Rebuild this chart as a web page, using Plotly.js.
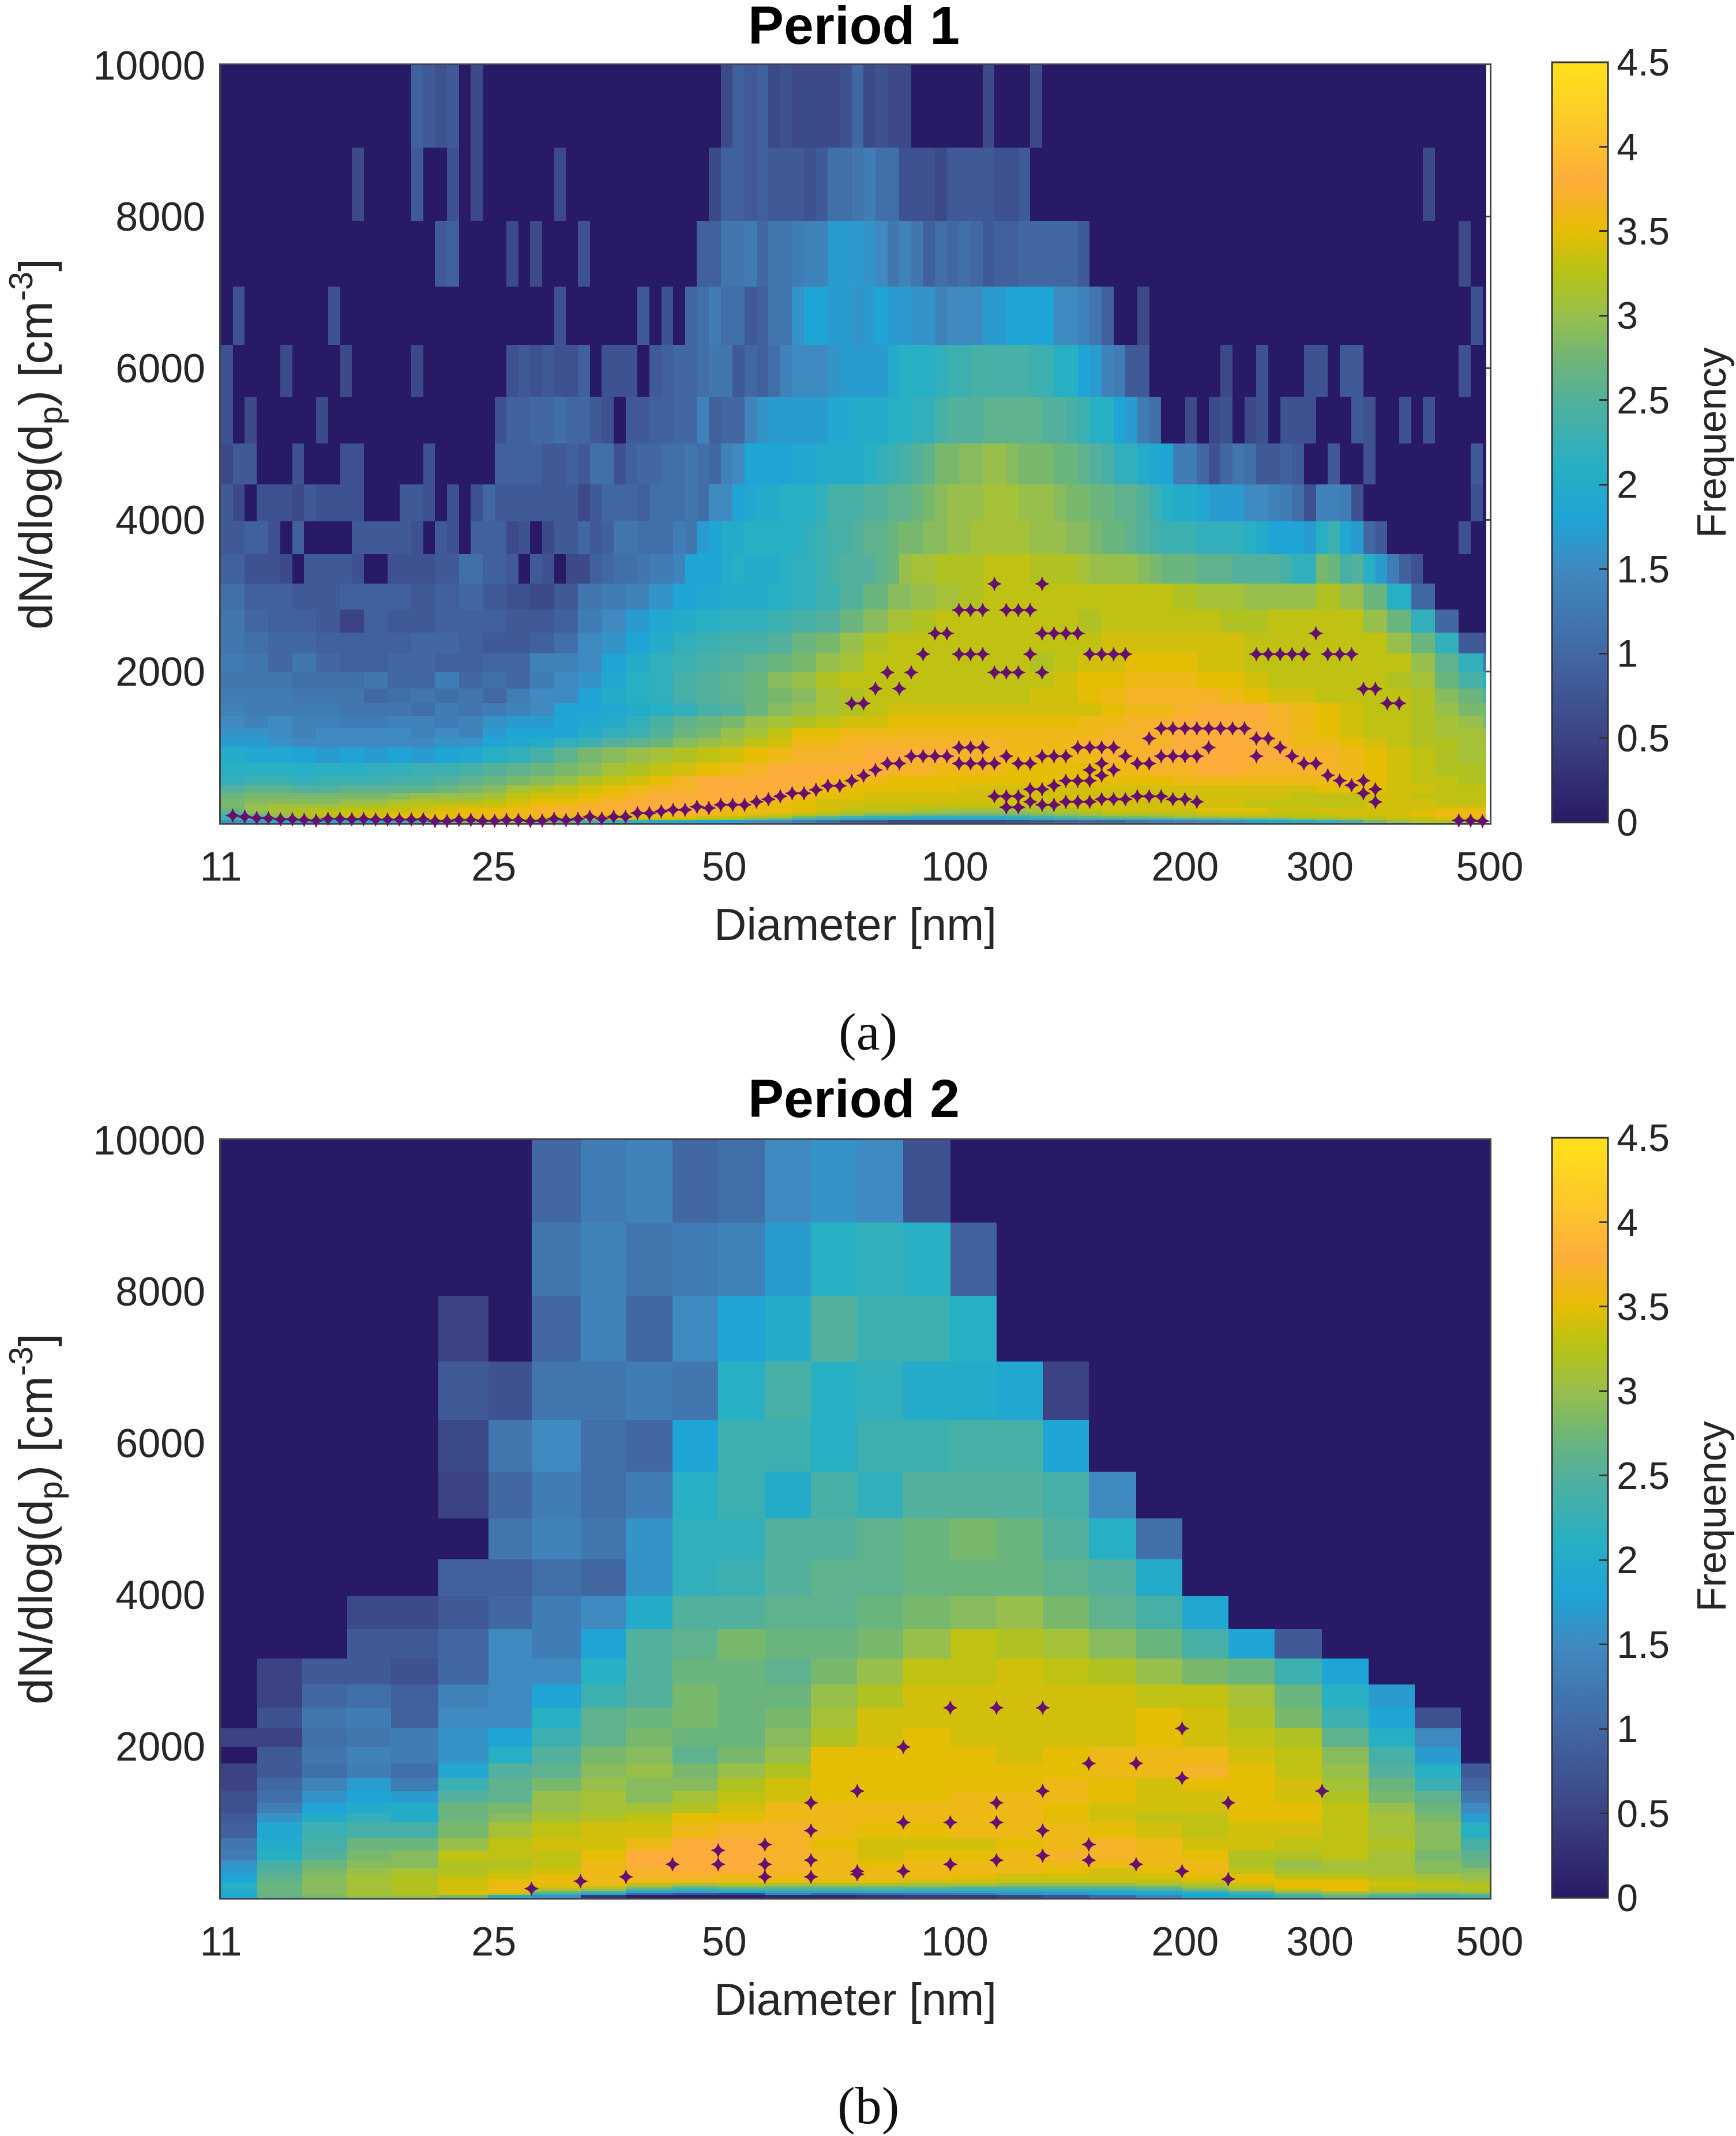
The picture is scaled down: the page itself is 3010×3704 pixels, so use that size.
<!DOCTYPE html>
<html><head><meta charset="utf-8"><script src="https://cdn.plot.ly/plotly-3.0.1.min.js"></script>
<style>html,body{margin:0;padding:0;background:#fff}</style></head><body><div id="g" style="width:3010px;height:3704px"></div>
<script>
// Diameter bin edges [nm], Period 1 (fine channels)
const edgesA=[11,11.4,11.82,12.25,12.69,13.16,13.64,14.13,14.65,15.18,15.74,16.31,16.9,17.52,18.16,18.82,19.51,20.22,20.95,21.72,22.51,23.33,24.18,25.06,25.97,26.92,27.9,28.92,29.97,31.06,32.2,33.37,34.59,35.85,37.15,38.51,39.91,41.37,42.87,44.44,46.06,47.74,49.48,51.28,53.15,55.09,57.1,59.18,61.33,63.57,65.89,68.29,70.78,73.36,76.03,78.8,81.68,84.66,87.74,90.94,94.26,97.69,101.3,104.9,108.8,112.7,116.8,121.1,125.5,130.1,134.8,139.7,144.8,150.1,155.6,161.3,167.1,173.2,179.5,186.1,192.8,199.9,207.2,214.7,222.5,230.7,239.1,247.8,256.8,266.2,275.9,285.9,296.4,307.2,318.4,330,342,354.5,367.4,380.8,394.7,409.1,424,439.5,455.5,472.1,489.3,495];
// Diameter bin edges [nm], Period 2
const edgesB=[11,12.27,14.05,16.08,18.34,21.15,24.59,28,32.45,37.2,42.8,49.1,56.5,64.9,74.6,85.7,98.7,113.4,130.3,149.7,172.6,198.2,227.7,261.6,302,347.6,399,458.7,500];
// dN/dlogDp bin edges
const rowsUpper=[10000,8913,7943,7079,6310,5623,5012,4467,3981,3548,3162];
const rowsLower=[3162,2818,2512,2239,1995,1778,1585,1413,1259,1122,1000,794,631,501,398,316,251,200,158,126,100,63,40,5];
// Frequency x10, Period 1, rows from top, fine channels (missing tail = 0)
const freqA_upper=[
[0,0,0,0,0,0,0,0,0,0, 0,0,0,0,0,0,9,8,7,8, 0,6,0,0,0,0,0,0,0,0, 0,0,0,0,0,0,0,0,0,0, 0,0,6,9,8,9,6,7,6,6, 6,6,7,10,6,7,6,6,0,0, 0,0,0,0,6,0,0,0,6,0],
[0,0,0,0,0,0,0,0,0,0, 0,6,0,0,0,0,8,0,0,7, 0,6,0,0,0,0,0,0,6,0, 0,0,0,0,0,0,0,0,0,0, 0,6,9,9,8,9,8,8,8,7, 8,11,11,12,13,11,11,7,7,7, 6,8,8,8,8,7,7,8,0,0, 0,0,0,0,0,0,0,0,0,0, 0,0,0,0,0,0,0,0,0,0, 0,0,0,0,0,0,0,0,0,0, 0,6],
[0,0,0,0,0,0,0,0,0,0, 0,0,0,0,0,0,0,0,8,9, 0,0,0,0,6,0,6,0,0,0, 7,0,0,0,0,0,0,0,0,0, 9,9,12,12,13,10,12,12,13,14, 14,17,17,17,16,15,12,14,12,9, 11,10,11,10,8,9,9,10,10,10, 10,10,8,0,0,0,0,0,0,0, 0,0,0,0,0,0,0,0,0,0, 0,0,0,0,0,0,0,0,0,0, 0,0,0,0,6],
[0,7,0,0,0,0,0,0,0,7, 0,0,0,0,0,0,0,0,0,0, 0,0,0,0,0,0,0,0,7,0, 0,0,0,0,0,8,0,7,0,10, 11,13,11,11,8,9,12,12,16,18, 18,17,17,16,17,18,17,17,16,16, 14,15,15,15,17,17,18,18,18,18, 15,15,14,12,9,0,0,6,0,0, 0,0,0,0,0,0,0,0,0,0, 0,0,0,0,0,0,0,0,0,0, 0,0,0,0,0,7],
[7,0,0,0,0,6,0,0,0,0, 6,0,0,0,0,0,6,0,0,0, 0,0,0,0,7,8,7,8,7,7, 9,0,7,7,7,0,8,9,10,10, 11,12,12,8,10,9,11,14,15,15, 15,16,17,17,17,17,20,21,21,21, 22,23,23,24,24,24,24,24,23,23, 21,21,18,17,14,13,8,8,0,0, 0,0,0,0,6,0,0,7,0,0, 0,7,7,0,8,8,0,0,0,0, 0,0,0,0,7,0,0],
[7,0,6,0,0,0,0,0,6,0, 0,0,0,0,0,0,0,0,0,0, 0,0,0,7,9,9,10,10,11,10, 10,8,7,0,8,8,9,9,10,10, 14,9,10,10,14,16,17,17,17,17, 17,19,19,20,20,20,21,21,22,22, 24,25,25,25,26,26,26,26,26,25, 25,24,23,21,21,18,17,13,11,0, 0,6,0,6,7,0,6,7,0,7, 7,7,0,0,0,8,7,0,0,7, 0,7,0,0,0,0,0],
[6,8,8,0,0,0,7,0,0,0, 7,7,0,0,0,0,0,7,0,0, 0,0,0,9,9,9,9,8,8,9, 8,11,11,7,9,10,10,11,11,12, 11,10,14,15,18,18,18,18,19,19, 20,20,20,20,21,22,23,24,25,26, 28,28,29,29,30,30,29,28,28,28, 27,27,26,25,24,22,22,20,19,18, 13,13,10,7,10,12,11,8,8,9, 8,0,0,8,0,0,7,0,0,0, 0,0,0,0,0,8,0],
[8,6,0,7,7,7,6,8,7,7, 7,7,0,0,0,8,8,7,0,7, 0,7,10,8,8,8,8,8,8,8, 6,8,10,10,10,9,11,11,11,12, 11,15,15,18,19,20,20,21,21,21, 22,24,24,24,25,25,26,26,27,28, 29,30,30,30,31,31,31,30,30,30, 29,28,28,27,27,26,26,25,23,21, 20,20,19,17,17,17,15,15,14,13, 11,7,14,14,13,7,0,0,0,0, 0,0,0,0,0,7,0],
[8,8,9,9,7,0,9,0,0,0, 0,8,8,8,8,8,7,0,8,7, 0,9,9,9,6,7,0,6,8,8, 10,8,9,12,12,11,11,11,13,12, 17,18,20,20,21,21,21,21,21,22, 23,24,24,25,26,26,27,28,28,29, 29,30,30,31,31,31,31,31,30,30, 30,29,29,28,27,27,26,25,24,23, 23,23,22,22,22,22,21,20,18,18, 18,17,21,23,19,17,10,8,0,0, 0,0,0,0,7,0,0],
[9,9,7,7,7,6,0,8,8,8, 8,7,0,0,7,7,7,7,8,8, 11,11,9,9,8,0,8,7,0,6, 6,9,10,11,11,12,13,13,14,18, 18,18,20,21,20,20,20,21,22,22, 23,24,25,25,25,26,27,30,31,31, 32,32,32,32,33,33,33,33,32,32, 32,32,31,30,30,30,30,29,28,27, 27,27,26,26,26,25,25,25,25,24, 22,22,28,27,24,25,21,17,13,9, 7,0,0,0,0,0,0]
];
// Frequency x10, Period 1, lower rows, pairs of channels
const freqA_lower=[
[11,9,9,8,8,9,9,9,8,9,10,8,7,6,8,12,13,14,16,18,19,20,20, 21,22,23,25,27,29,30,31,32,33,33,33,33,33,33,33,33,32,31,31,30, 30,30,32,30,27,21,10],
[12,10,9,9,8,5,9,8,8,9,9,9,8,8,9,13,15,17,19,20,21,22,22, 23,24,25,27,29,31,32,33,33,33,33,33,33,32,33,33,33,33,33,32,32, 33,33,33,33,30,27,22,10],
[12,11,10,10,9,9,9,9,10,10,9,8,8,9,11,15,16,18,20,22,23,24,24, 25,27,28,30,32,33,33,33,33,33,33,33,33,33,34,34,34,34,34,34,33, 33,33,33,33,33,30,27,22,8,7],
[13,12,10,12,10,9,9,10,10,9,9,10,10,14,14,15,18,20,22,23,24,25,26, 27,28,30,31,33,33,33,33,33,33,33,32,33,34,34,35,35,35,34,34,33, 33,33,33,33,33,33,30,26,22,13],
[12,12,12,11,11,11,12,10,10,13,10,11,10,13,15,16,19,21,22,24,25,26,27, 29,30,32,33,33,33,33,33,33,33,33,33,34,35,35,36,36,36,35,35,34, 33,33,33,33,33,32,31,27,24,21],
[13,13,13,12,12,12,10,11,12,11,12,10,13,15,15,18,20,21,22,24,25,26,27, 28,29,31,32,33,33,33,33,33,33,33,34,34,35,36,37,37,37,37,36,35, 34,34,33,33,33,33,32,29,27,25],
[14,13,13,13,13,12,12,12,11,13,12,13,14,15,18,18,19,20,21,22,24,25,27, 29,30,31,32,33,34,34,34,34,34,34,34,34,34,35,36,36,37,38,38,38, 37,36,35,34,33,33,32,30,28,28],
[15,14,15,14,14,13,13,14,14,13,14,16,17,17,18,19,20,22,24,26,27,28,30, 31,32,33,34,34,35,35,35,35,35,35,35,35,36,36,37,37,38,38,38,38, 37,36,35,34,33,33,32,31,30,28],
[16,16,15,14,15,15,15,15,14,15,14,17,18,18,18,20,22,23,25,27,28,30,31, 33,35,35,36,36,36,36,36,36,36,36,36,36,36,37,37,37,38,38,38,38, 37,36,35,34,33,33,32,31,31,30],
[17,17,16,15,15,15,15,15,15,16,16,18,19,20,22,23,25,26,27,29,30,31,33, 34,36,36,37,37,37,37,37,37,37,36,36,36,37,37,37,37,38,38,38,38, 37,36,36,35,34,33,32,32,31,31],
[20,19,19,18,17,18,17,18,17,18,19,21,22,24,26,28,29,30,31,32,33,34,35, 36,37,37,37,38,38,38,38,37,37,36,36,36,36,37,37,38,38,38,38,38,38,37,37,36,35,34,33,32,31,31],
[21,21,21,21,21,21,22,22,23,23,24,25,26,27,28,29,31,32,33,34,35,36,37, 38,38,38,38,38,37,37,36,36,36,35,35,35,35,36,36,37,37,38,38,37,37,37,37,36,35,34,33,32,32,31],
[22,23,23,22,23,23,23,24,24,25,26,27,28,29,30,32,33,34,35,37,38,38,38, 38,38,37,36,36,35,35,35,35,35,35,35,35,35,35,35,35,36,36,36,36,36,36,36,36,35,34,33,33,32,32],
[25,26,26,25,25,26,26,26,26,27,28,29,31,32,33,34,35,36,37,37,38,38,38, 38,37,36,35,35,35,35,35,34,34,34,34,34,34,34,34,34,34,34,34,34,34,34,35,35,35,34,34,33,33,33],
[27,28,28,28,28,28,28,29,30,30,30,31,33,34,34,35,36,37,38,38,38,38,38, 37,36,35,35,34,34,34,34,34,34,34,34,34,34,34,34,34,34,34,34,34,34,33,33,33,34,34,33,33,33,33],
[28,29,29,29,29,30,30,31,32,32,32,33,34,35,35,36,37,38,38,38,38,38,37, 36,35,34,34,34,34,34,34,34,34,34,34,34,34,34,34,34,34,34,34,33,33,33,33,33,34,34,34,33,33,33],
[28,30,31,31,31,32,32,33,33,34,34,34,35,36,37,37,38,38,38,38,37,36,36, 35,35,34,34,33,33,33,33,33,33,33,33,34,34,34,34,34,34,34,34,33,33,33,33,33,34,34,34,34,34,34],
[27,30,31,32,32,33,33,33,34,34,35,35,36,37,37,38,38,38,38,38,37,36,36, 36,35,34,33,33,33,32,31,31,31,31,31,32,33,34,34,34,34,35,35,35,34,34,34,34,34,34,34,35,35,35],
[26,29,31,32,33,33,34,34,34,35,35,36,36,37,37,37,37,37,37,38,37,36,36, 35,34,33,32,31,31,30,30,29,29,29,30,31,32,33,33,33,33,34,34,34,33,33,34,34,34,34,35,36,36,36],
[24,27,30,32,33,34,34,35,35,35,36,36,36,36,36,36,36,36,36,37,36,35,34, 33,32,31,30,28,28,27,27,27,27,27,28,29,30,31,31,31,32,33,33,33,33,33,33,34,34,34,35,36,36,36],
[23,26,29,31,32,33,34,35,35,35,35,35,35,35,35,35,35,35,35,35,34,33,32, 31,28,26,24,23,23,22,22,22,22,23,24,26,27,28,28,29,30,30,31,31,31,32,32,33,33,34,34,35,35,35],
[24,28,31,33,33,34,35,35,35,34,35,35,35,34,34,34,34,33,33,33,32,31,29, 27,24,22,20,20,20,19,19,19,19,20,21,22,23,24,24,24,25,26,26,27,28,29,30,31,32,33,33,34,34,34],
[16,18,20,18,18,20,20,22,24,26,28,30,30,28,26,24,23,22,20,20,18,18,16, 15,13,11,8,8,6,6,6,6,6,7,8,9,10,10,12,13,14,15,16,18,19,20,22,24,28,30,32,32,30,28]
];
// Frequency x10, Period 2, rows from top
const freqB=[
[0,0,0,0,0,0,0,10,13,14,10,11,15,16,15,7],
[0,0,0,0,0,0,0,12,14,12,13,14,17,21,22,21,9],
[0,0,0,0,0,5,0,10,14,10,15,18,20,25,23,23,21],
[0,0,0,0,0,8,7,12,12,13,12,21,24,21,22,20,20,19,5],
[0,0,0,0,0,6,12,15,11,10,18,23,23,21,23,23,24,24,18],
[0,0,0,0,0,5,10,13,11,13,21,23,20,24,22,25,25,25,24,15],
[0,0,0,0,0,0,12,14,12,16,22,22,25,25,26,27,28,27,25,21,11],
[0,0,0,0,0,9,9,11,10,16,22,23,25,26,26,27,27,27,26,25,20],
[0,0,0,6,6,8,10,13,15,20,25,25,26,26,27,28,29,30,28,26,24,19],
[0,0,0,8,8,10,15,13,18,25,26,28,27,27,28,30,33,32,31,29,27,24,18,8],
[0,5,8,8,7,10,15,15,21,25,27,27,26,28,30,33,33,34,33,32,30,28,27,23,18],
[0,5,10,11,9,14,15,18,23,25,28,27,27,30,32,34,34,34,34,34,33,33,31,27,21,17],
[0,7,12,13,9,15,15,21,26,27,28,27,28,31,34,34,34,34,34,34,35,34,32,28,23,18,7],
[5,5,11,12,13,16,18,23,26,28,27,27,29,32,34,35,34,34,34,34,35,34,33,32,26,21,15],
[0,8,12,14,13,16,21,25,28,29,26,28,30,35,35,35,35,34,35,36,36,36,34,33,29,24,17,0],
[5,8,11,13,11,19,25,26,29,30,28,30,32,35,35,35,35,35,35,36,36,37,35,33,30,25,21,8],
[5,10,14,17,13,23,26,28,30,29,29,32,34,35,35,35,35,35,36,35,34,35,35,34,31,27,23,10],
[7,11,16,18,17,25,26,30,31,29,31,33,34,35,35,35,36,36,36,35,34,34,35,34,32,28,26,12],
[7,13,18,20,20,27,28,30,31,31,32,34,36,36,36,36,36,36,35,34,34,34,35,35,33,30,27,15],
[8,16,20,22,20,27,29,31,32,33,35,35,36,36,36,36,36,36,35,34,33,33,35,35,33,31,28,17],
[9,19,23,24,24,28,31,33,34,34,36,37,37,36,35,35,36,36,36,35,34,33,34,34,33,31,29,21],
[12,20,24,27,27,30,33,34,34,36,38,38,37,35,34,34,34,35,36,37,36,34,34,33,33,32,29,24],
[13,21,25,28,29,33,33,33,35,38,38,38,37,36,34,35,35,36,37,37,36,35,32,32,33,31,28,26],
[16,24,27,29,29,32,32,33,36,38,38,38,37,36,35,36,36,36,36,36,36,36,32,30,31,31,29,27],
[17,25,28,30,31,32,33,34,36,37,38,38,37,36,36,36,36,36,35,34,35,36,33,31,31,31,29,29],
[18,26,29,31,32,33,34,35,36,37,37,36,36,36,36,36,35,34,34,34,34,35,35,33,33,32,31,30],
[19,26,29,31,32,34,35,36,36,36,36,36,35,35,35,34,34,33,33,33,33,34,35,35,35,33,32,31],
[21,27,29,31,32,34,36,35,36,33,31,32,31,31,31,31,31,30,30,30,31,32,34,35,35,34,33,32],
[21,27,29,31,32,34,36,34,33,29,26,28,27,27,27,27,26,26,26,26,27,30,32,35,35,33,33,33],
[20,27,29,31,32,34,36,31,30,24,22,23,24,24,24,23,23,23,23,23,24,27,30,33,35,33,32,32],
[20,27,29,31,32,34,35,28,24,19,18,18,19,19,19,19,19,18,18,18,20,22,26,30,32,31,30,31],
[19,27,29,31,32,34,33,23,19,10,7,6,14,10,11,12,13,16,17,18,18,19,22,27,29,28,27,28],
[19,26,28,30,30,28,20,16,3,1,1,1,2,2,3,4,4,5,7,10,14,18,20,23,26,24,23,23]
];
// Local maxima, Period 1: [channel edge index, dN/dlogDp]
const peaksA=[[1,102],[2,86],[3,69],[4,66],[5,53],[6,53],[7,46],[8,36],[9,59],[10,59],[11,53],[12,56],[13,50],[14,50],[15,50],[16,50],[17,53],[18,30],[19,30],[20,46],[21,46],[22,33],[23,33],[24,43],[25,43],[26,30],[27,36],[28,59],[29,43],[30,59],[31,86],[32,63],[33,86],[34,86],[35,135],[36,135],[37,158],[38,178],[39,178],[40,218],[41,201],[42,244],[43,244],[44,244],[45,284],[46,317],[47,356],[48,396],[49,396],[50,442],[51,495],[52,495],[53,561],[54,630],[55,703],[56,789],[57,789],[58,885],[59,885],[60,885],[61,885],[62,1000],[63,1000],[64,1000],[62,789],[63,789],[64,789],[65,789],[66,885],[67,789],[68,789],[69,885],[70,885],[71,885],[72,1000],[73,1000],[74,1000],[75,1000],[76,885],[77,789],[78,789],[78,1119],[79,1251],[80,1251],[81,1251],[82,1251],[83,1251],[84,1251],[85,1251],[86,1251],[79,885],[80,885],[81,885],[82,885],[83,1000],[87,1119],[88,1119],[87,885],[89,1000],[90,885],[91,789],[92,789],[93,632],[94,563],[95,502],[96,563],[96,396],[97,449],[97,282],[65,356],[66,356],[67,356],[66,211],[67,211],[68,449],[69,449],[68,284],[69,244],[70,244],[70,498],[71,561],[72,561],[73,561],[73,703],[74,789],[75,703],[74,630],[71,284],[72,284],[73,284],[74,317],[75,317],[76,317],[77,356],[78,356],[79,356],[80,317],[81,317],[82,284],[53,1581],[54,1581],[55,1776],[57,1776],[56,1990],[58,1990],[59,2231],[60,2505],[61,2505],[62,2812],[63,2812],[64,2812],[65,3158],[69,3158],[66,2812],[67,2812],[68,2812],[69,2505],[70,2505],[71,2505],[72,2505],[62,2231],[63,2231],[64,2231],[65,1990],[66,1990],[67,1990],[69,1990],[68,2231],[73,2231],[74,2231],[75,2231],[76,2231],[87,2231],[88,2231],[89,2231],[90,2231],[91,2231],[92,2505],[93,2231],[94,2231],[95,2231],[96,1773],[97,1773],[98,1583],[99,1583],[104,38],[105,36],[106,30]];
// Local maxima, Period 2: [bin edge index, dN/dlogDp]
const peaksB=[[7,126],[8,224],[9,282],[10,447],[11,447],[11,631],[12,708],[12,447],[12,282],[13,1259],[13,891],[13,501],[13,282],[14,1413],[14,355],[14,316],[15,1995],[15,1000],[15,355],[16,2512],[16,1000],[16,447],[17,2512],[17,1259],[17,1000],[17,501],[18,2512],[18,1413],[18,891],[18,562],[19,1778],[19,708],[19,501],[20,1778],[20,447],[21,2239],[21,1585],[21,355],[22,1259],[22,251],[24,1413]];
const xTicks=[11,25,50,100,200,300,500];
const yTicks=[2000,4000,6000,8000,10000];
const colours=[[0,'#281a66'],[0.111,'#3c4384'],[0.222,'#4268a4'],[0.333,'#3f8ac0'],[0.4,'#1fa4d6'],[0.467,'#27afc4'],[0.556,'#52b09c'],[0.611,'#70b675'],[0.667,'#98bf4c'],[0.722,'#b5c316'],[0.778,'#e6bd05'],[0.844,'#fdae3a'],[0.911,'#fdc62a'],[1,'#ffe11a']];

const W=3010,H=3704,ink='#262626',peakColour='#650f70';
const pad=(r,n)=>{const o=r.map(v=>v/10);while(o.length<n)o.push(0);return o;};
const up=a=>a.slice().reverse();
const coarseA=edgesA.filter((v,i)=>i%2===0||i===edgesA.length-1);
const cols=coarseA.length-1;
const font=(s,c)=>({family:'"Liberation Sans",Arial,sans-serif',size:s,color:c||ink});
function bar(top){return {cmin:0,cmax:4.5,colorscale:colours,colorbar:{x:2691/W,xanchor:'left',xpad:0,y:1-top/H,yanchor:'top',ypad:0,lenmode:'pixels',len:1318,thicknessmode:'pixels',thickness:97,outlinewidth:3,outlinecolor:'#333',tick0:0,dtick:0.5,ticks:'inside',ticklen:16,tickwidth:3,tickcolor:'#333',tickfont:font(66)}};}
const peakMarker={symbol:'star-diamond',size:17,color:peakColour,line:{width:1,color:peakColour}};
const data=[
{type:'heatmap',xaxis:'x',yaxis:'y',coloraxis:'coloraxis',x:edgesA,y:up(rowsUpper),z:up(freqA_upper.map(r=>pad(r,edgesA.length-1))),hoverinfo:'skip'},
{type:'heatmap',xaxis:'x',yaxis:'y',coloraxis:'coloraxis',x:coarseA,y:up(rowsLower),z:up(freqA_lower.map(r=>pad(r,cols))),hoverinfo:'skip'},
{type:'scatter',mode:'markers',xaxis:'x',yaxis:'y',x:peaksA.map(p=>edgesA[p[0]]),y:peaksA.map(p=>p[1]),marker:peakMarker,cliponaxis:false,hoverinfo:'skip'},
{type:'heatmap',xaxis:'x2',yaxis:'y2',coloraxis:'coloraxis2',x:edgesB,y:up(rowsUpper.concat(rowsLower.slice(1))),z:up(freqB.map(r=>pad(r,edgesB.length-1))),hoverinfo:'skip'},
{type:'scatter',mode:'markers',xaxis:'x2',yaxis:'y2',x:peaksB.map(p=>edgesB[p[0]]),y:peaksB.map(p=>p[1]),marker:peakMarker,cliponaxis:false,hoverinfo:'skip'}
];
function xAx(anchor){return {type:'log',range:[Math.log10(11),Math.log10(500)],domain:[383/W,2583/W],anchor:anchor,tickmode:'array',tickvals:xTicks,ticktext:xTicks.map(String),ticks:'inside',ticklen:22,tickwidth:3,tickcolor:'#444',mirror:'allticks',showline:true,linewidth:3,linecolor:'#444',showgrid:false,zeroline:false,layer:'below traces',tickfont:font(70),ticklabelstandoff:13,title:{text:'Diameter [nm]',font:font(78),standoff:35}};}
function yAx(anchor,top,bot){return {range:[5,10000],domain:[1-bot/H,1-top/H],anchor:anchor,tickmode:'array',tickvals:yTicks,ticktext:yTicks.map(String),ticks:'inside',ticklen:22,tickwidth:3,tickcolor:'#444',mirror:'allticks',showline:true,linewidth:3,linecolor:'#444',showgrid:false,zeroline:false,layer:'below traces',tickfont:font(70),ticklabelstandoff:10,title:{text:'dN/dlog(d<sub>p</sub>) [cm<sup>-3</sup>]',font:font(82),standoff:44}};}
const ann=(t,x,y,f,a)=>({text:t,x:x/W,y:1-y/H,xref:'paper',yref:'paper',xanchor:'center',yanchor:'middle',showarrow:false,font:f,textangle:a||0});
const bold=s=>({family:'"Liberation Sans",Arial,sans-serif',size:s,color:'#000'});
const layout={width:W,height:H,margin:{l:0,r:0,t:0,b:0},paper_bgcolor:'#fff',plot_bgcolor:'#fff',showlegend:false,
xaxis:xAx('y'),yaxis:yAx('x',113,1427),xaxis2:xAx('y2'),yaxis2:yAx('x2',1977,3291),
coloraxis:bar(108),coloraxis2:bar(1973),
annotations:[ann('<b>Period 1</b>',1480,44,bold(93)),ann('<b>Period 2</b>',1480,1905,bold(93)),
ann('Frequency',2968,768,font(70),-90),ann('Frequency',2968,2630,font(70),-90),
ann('(a)',1505,1789,{family:'"Liberation Serif",serif',size:92,color:'#111'}),ann('(b)',1505,3651,{family:'"Liberation Serif",serif',size:92,color:'#111'})]};
Plotly.newPlot('g',data,layout,{displayModeBar:false,staticPlot:true});
</script></body></html>
